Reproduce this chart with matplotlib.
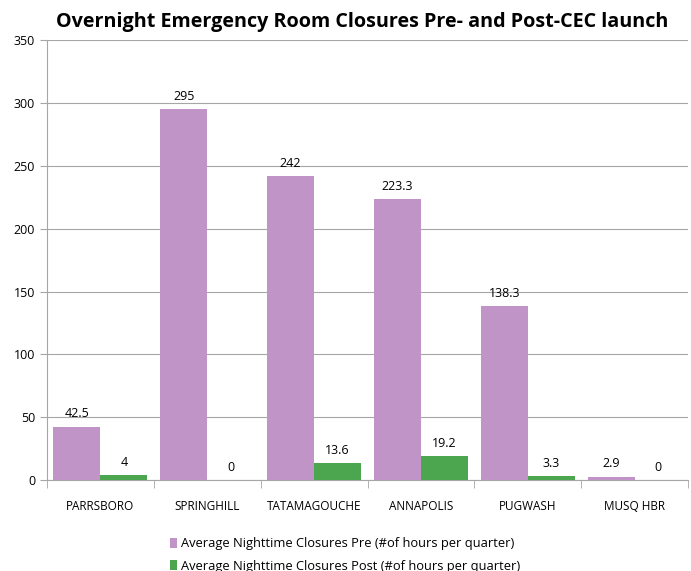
import matplotlib
matplotlib.use('Agg')
from matplotlib import pyplot as plt
import numpy as np

# chart data
sites = ['PARRSBORO', 'SPRINGHILL', 'TATAMAGOUCHE', 'ANNAPOLIS', 'PUGWASH', 'MUSQ HBR']
pre = [42.5, 295, 242, 223.3, 138.3, 2.9]
post = [4, 0, 13.6, 19.2, 3.3, 0]
pre_labels = ['42.5', '295', '242', '223.3', '138.3', '2.9']
post_labels = ['4', '0', '13.6', '19.2', '3.3', '0']
y_ticks = [0, 50, 100, 150, 200, 250, 300, 350]

PURPLE = '#C094C7'
GREEN = '#4CA650'

plt.rcParams['font.family'] = ['Open Sans', 'DejaVu Sans']

fig = plt.figure(figsize=(6.91, 5.71), dpi=100)
ax = fig.add_axes([0.068, 0.159, 0.928, 0.771])

x = np.arange(len(sites))
w = 0.44
b1 = ax.bar(x - w / 2, pre, w, color=PURPLE, label='Average Nighttime Closures Pre (#of hours per quarter)', zorder=3)
b2 = ax.bar(x + w / 2, post, w, color=GREEN, label='Average Nighttime Closures Post (#of hours per quarter)', zorder=3)

# value labels above each bar
for xi, v, t in zip(x, pre, pre_labels):
    ax.text(xi - w / 2, v + 5, t, ha='center', va='bottom', fontsize=9)
for xi, v, t in zip(x, post, post_labels):
    ax.text(xi + w / 2, v + 5, t, ha='center', va='bottom', fontsize=9)

ax.set_xlim(-0.5, len(sites) - 0.5)
ax.set_ylim(0, 350)
ax.set_yticks(y_ticks)
ax.yaxis.grid(True, color='#A6A6A6', linewidth=0.8, zorder=0)
ax.set_axisbelow(True)

ax.set_xticks(x)
ax.set_xticklabels(sites, fontsize=8.5)
ax.set_xticks(np.arange(-0.5, len(sites)), minor=True)
ax.tick_params(axis='x', which='major', length=0, pad=14)
ax.tick_params(axis='x', which='minor', length=6, color='#A6A6A6')
ax.tick_params(axis='y', length=5, color='#A6A6A6', labelsize=9)

for s in ['top', 'right']:
    ax.spines[s].set_visible(False)
for s in ['left', 'bottom']:
    ax.spines[s].set_color('#A6A6A6')

fig.text(0.524, 0.962, 'Overnight Emergency Room Closures Pre- and Post-CEC launch',
         ha='center', va='center', fontsize=14.2, fontweight='bold')

fig.legend(handles=[b1, b2], loc='center', bbox_to_anchor=(0.5, 0.028),
           frameon=False, fontsize=9.3, handlelength=0.55, handleheight=0.9,
           handletextpad=0.3, labelspacing=0.7)

fig.savefig('out.png', dpi=100)
